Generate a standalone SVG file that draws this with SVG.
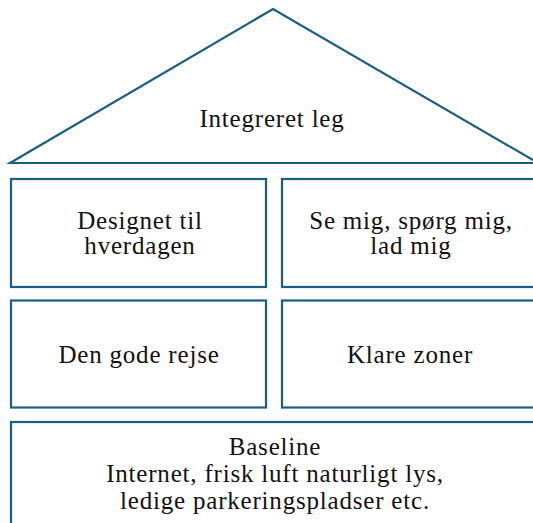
<svg xmlns="http://www.w3.org/2000/svg" width="533" height="523" viewBox="0 0 533 523">
  <style>
    .shape { fill: #ffffff; stroke: #1c5d82; stroke-width: 2.2; }
    .label { font-family: "Liberation Serif", "Times New Roman", serif; font-size: 25px; fill: #111111; text-anchor: middle; letter-spacing: 0.8px; }
  </style>
  <rect x="0" y="0" width="533" height="523" fill="#ffffff"/>
  <g id="roof">
    <polygon class="shape" points="10,163 273,9 538,163"/>
    <text class="label" x="272" y="127">Integreret leg</text>
  </g>
  <g id="designet">
    <rect class="shape" x="11" y="179" width="255" height="108"/>
    <text class="label" x="140" y="229">Designet til</text>
    <text class="label" x="140" y="254">hverdagen</text>
  </g>
  <g id="semig">
    <rect class="shape" x="282" y="179" width="262" height="108"/>
    <text class="label" x="411" y="229">Se mig, spørg mig,</text>
    <text class="label" x="411" y="254">lad mig</text>
  </g>
  <g id="rejse">
    <rect class="shape" x="11" y="300.5" width="255" height="107"/>
    <text class="label" x="139" y="363">Den gode rejse</text>
  </g>
  <g id="zoner">
    <rect class="shape" x="282" y="300.5" width="262" height="107"/>
    <text class="label" x="410" y="363">Klare zoner</text>
  </g>
  <g id="baseline">
    <rect class="shape" x="11" y="422" width="540" height="120"/>
    <text class="label" x="275" y="455">Baseline</text>
    <text class="label" x="275" y="482">Internet, frisk luft naturligt lys,</text>
    <text class="label" x="275" y="509">ledige parkeringspladser etc.</text>
  </g>
  <g id="connectors"/>
</svg>
